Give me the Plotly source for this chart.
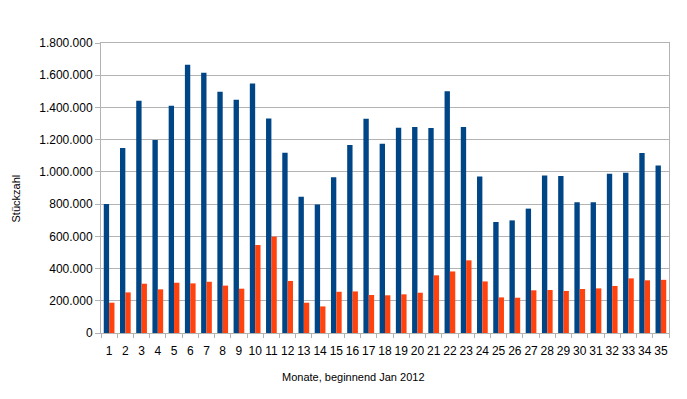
import plotly.graph_objects as go

months = [str(i) for i in range(1, 36)]
series_blue = [800000, 1148000, 1442000, 1198000, 1411000, 1665000, 1616000, 1498000, 1448000, 1549000,
               1332000, 1119000, 846000, 798000, 966000, 1167000, 1330000, 1175000, 1274000, 1279000,
               1272000, 1500000, 1279000, 972000, 689000, 699000, 772000, 978000, 974000, 811000,
               811000, 989000, 995000, 1117000, 1040000]
series_orange = [188000, 252000, 306000, 271000, 312000, 308000, 318000, 294000, 275000, 546000,
                 598000, 323000, 188000, 165000, 256000, 258000, 236000, 234000, 240000, 250000,
                 358000, 382000, 451000, 320000, 221000, 219000, 265000, 267000, 261000, 273000,
                 277000, 292000, 339000, 327000, 330000]
y_ticks = [0, 200000, 400000, 600000, 800000, 1000000, 1200000, 1400000, 1600000, 1800000]

# page offset (body margin) compensation
OFF = 8
W, H = 687, 399
L, R, T, B = 101 - OFF, 669 - OFF, 43 - OFF, 333 - OFF
PW, PH = R - L, B - T


def px(x):
    return (x - OFF - L) / PW


def py(y):
    return (B - (y - OFF)) / PH


fig = go.Figure()
fig.add_trace(go.Bar(x=months, y=series_blue, marker=dict(color="#004586", line=dict(width=0)), name="A"))
fig.add_trace(go.Bar(x=months, y=series_orange, marker=dict(color="#ff420e", line=dict(width=0)), name="B"))

font = "Liberation Sans, Arial, sans-serif"
fig.update_layout(
    width=W, height=H,
    margin=dict(l=L, r=W - R, t=T, b=H - B, autoexpand=False),
    paper_bgcolor="white", plot_bgcolor="white",
    barmode="group", bargap=0.34, bargroupgap=0,
    showlegend=False,
    separators=",.",
    font=dict(family=font, size=12, color="#000000"),
    xaxis=dict(type="category", showline=True, mirror=True, linecolor="#b3b3b3", linewidth=1,
               ticks="outside", tickson="boundaries", ticklen=4, tickcolor="#b3b3b3",
               showgrid=False, tickfont=dict(size=12), tickangle=0, automargin=False,
               ticklabelstandoff=7),
    yaxis=dict(range=[0, 1800000], tickvals=y_ticks, tickformat=",d",
               showline=True, mirror=True, linecolor="#b3b3b3", linewidth=1,
               ticks="outside", ticklen=5, tickcolor="#b3b3b3",
               showgrid=True, gridcolor="#b3b3b3", gridwidth=1, zeroline=False,
               tickfont=dict(size=12), automargin=False),
    annotations=[
        dict(text="Monate, beginnend Jan 2012", x=px(353.5), y=py(377), xref="paper", yref="paper",
             showarrow=False, xanchor="center", yanchor="middle", font=dict(size=11)),
        dict(text="Stückzahl", x=px(15), y=py(198.5), xref="paper", yref="paper",
             showarrow=False, xanchor="center", yanchor="middle", textangle=-90, font=dict(size=11)),
    ],
)

fig.write_html("out.html")
